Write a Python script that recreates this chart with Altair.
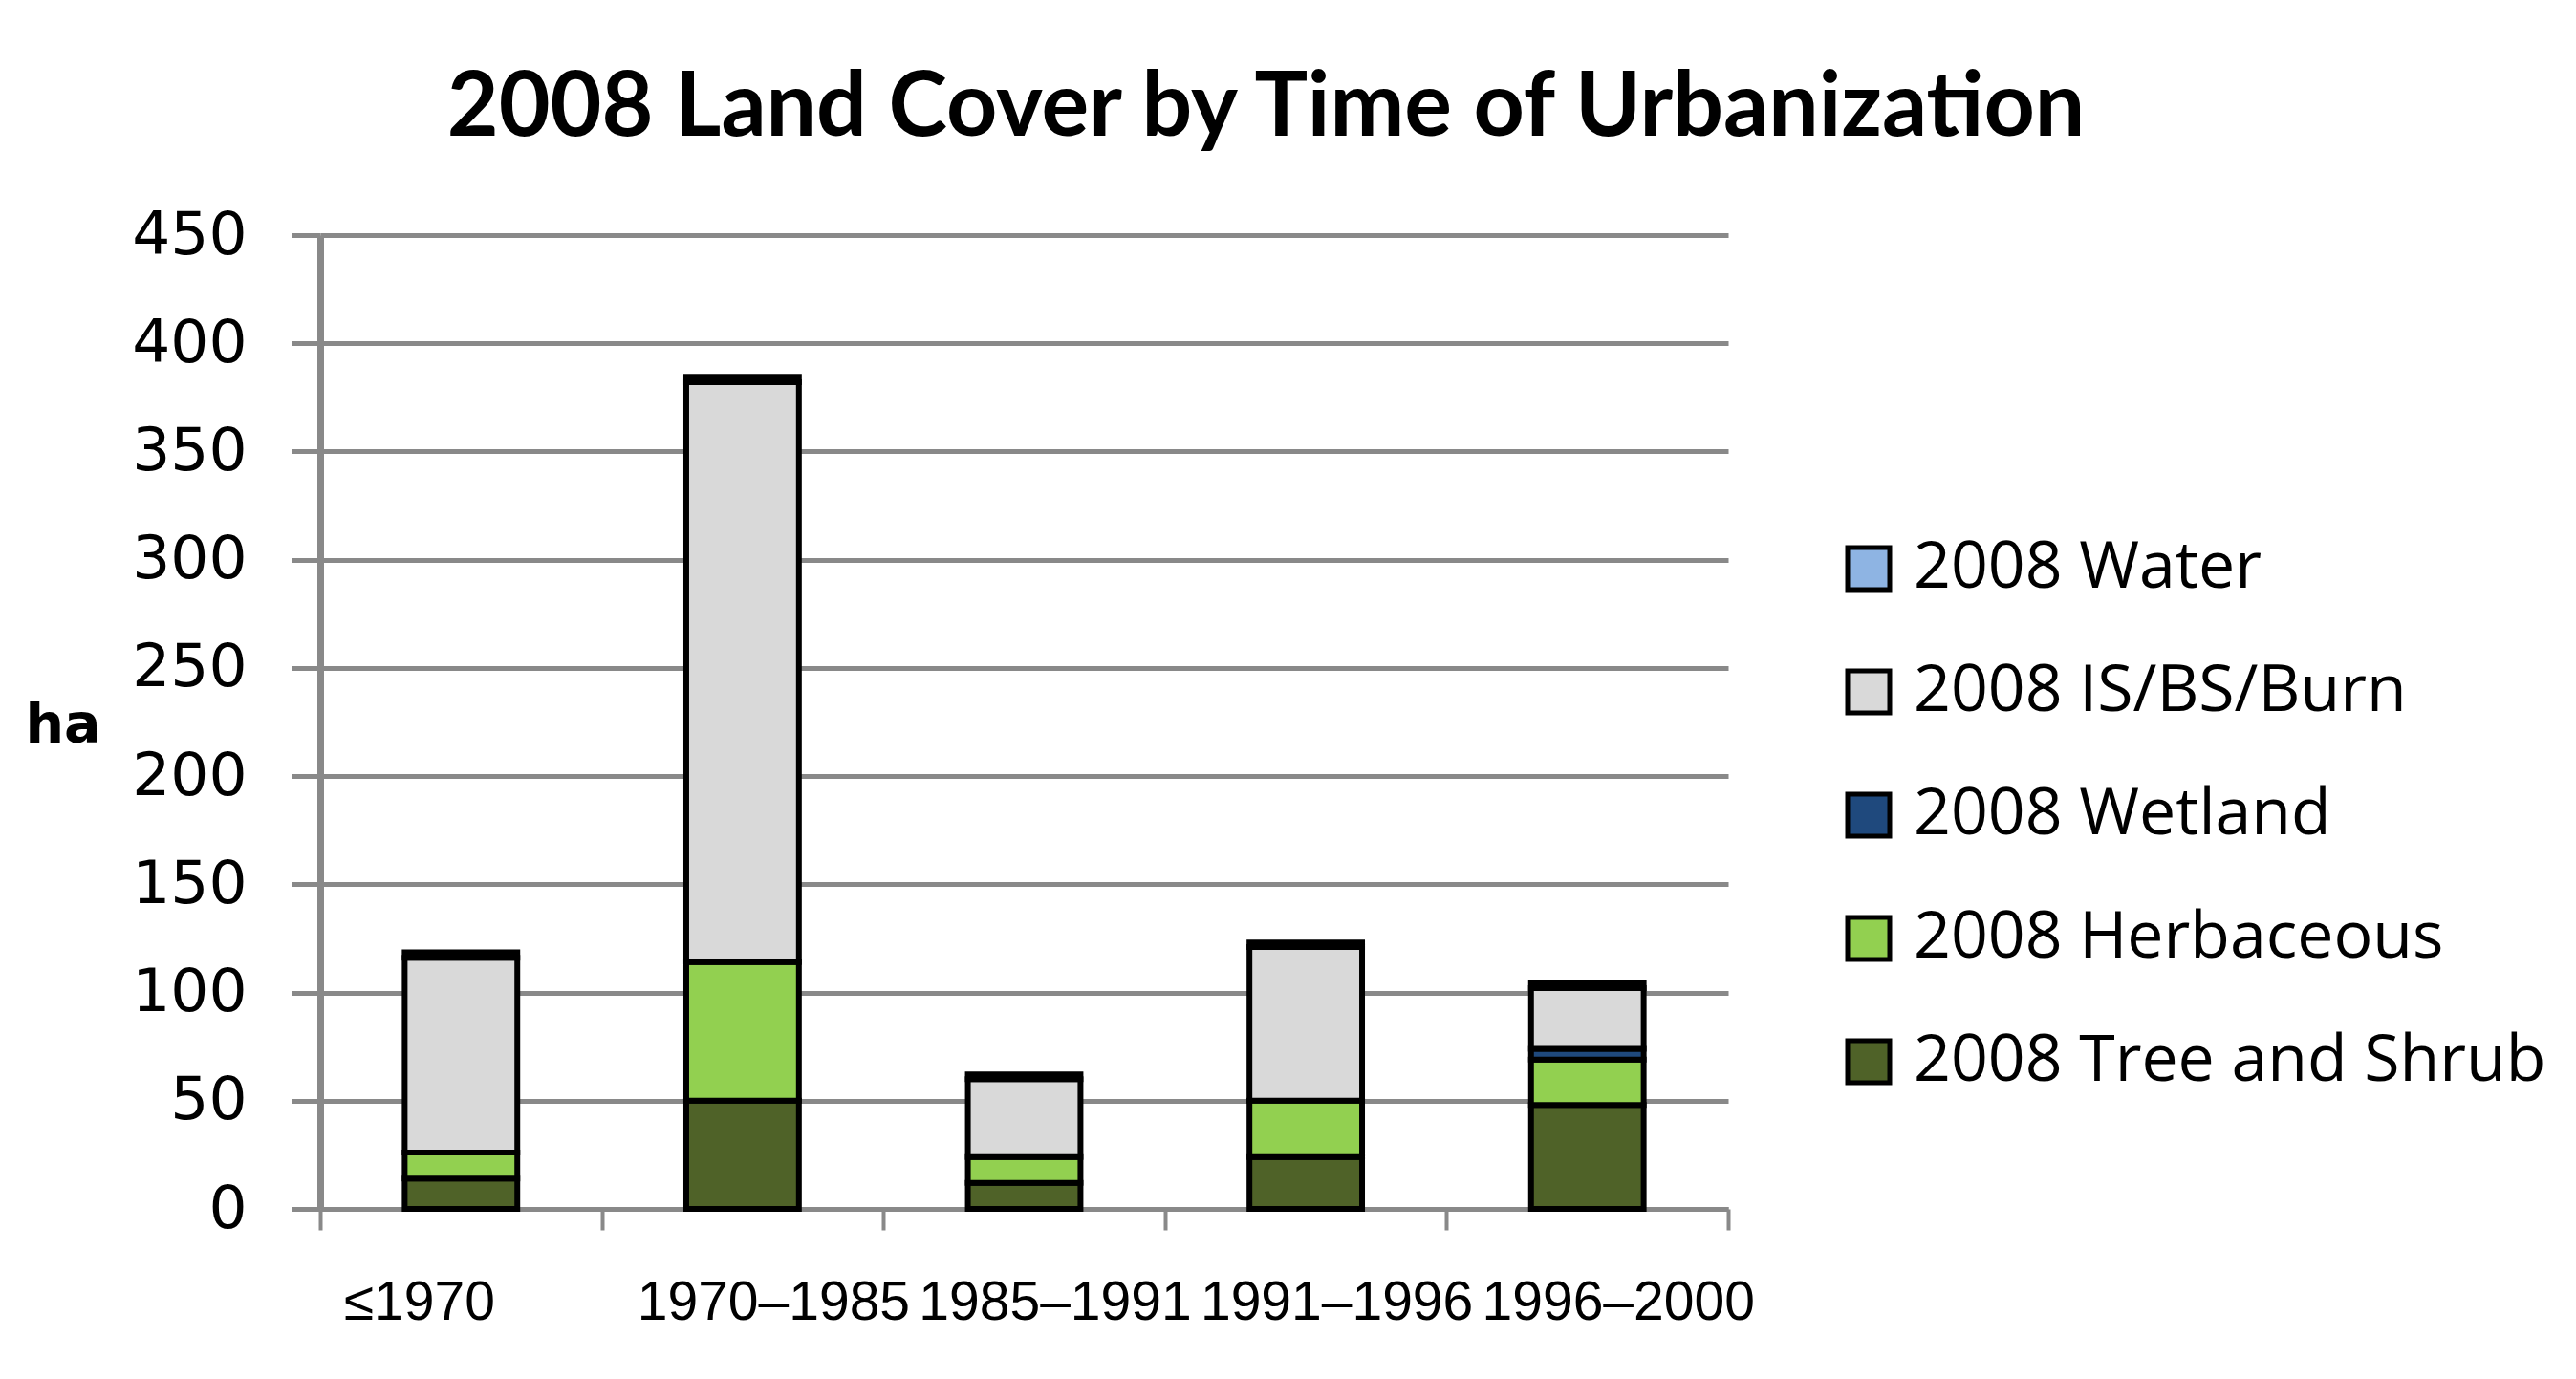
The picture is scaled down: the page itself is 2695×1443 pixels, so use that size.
import altair as alt
import pandas as pd

categories = ["≤1970", "1970–1985", "1985–1991", "1991–1996", "1996–2000"]
series = ["2008 Tree and Shrub", "2008 Herbaceous", "2008 Wetland", "2008 IS/BS/Burn", "2008 Water"]
tree = [14, 50, 12, 24, 48]
herb = [12, 64, 12, 26, 21]
wetland = [0, 0, 0, 0, 5]
isbs = [90, 268, 36, 71, 28]
water = [2.6, 2.5, 2.2, 2.1, 2.5]
colors = ["#4F6228", "#92D050", "#1F497D", "#D9D9D9", "#8EB4E3"]
y_ticks = [0, 50, 100, 150, 200, 250, 300, 350, 400, 450]

rows = []
for s_i, (name, vals) in enumerate(zip(series, [tree, herb, wetland, isbs, water])):
    for c, v in zip(categories, vals):
        if v > 0:
            rows.append({"period": c, "cover": name, "ha": v, "rank": s_i})
df = pd.DataFrame(rows)

legend_order = series[::-1]
legend_colors = colors[::-1]

chart = alt.Chart(df).mark_bar(stroke="black", strokeWidth=6,
                               width=alt.RelativeBandSize(0.4)).encode(
    x=alt.X("period:N", sort=categories,
            scale=alt.Scale(paddingInner=0, paddingOuter=0),
            axis=alt.Axis(title=None, labelAngle=0, labelFont="Liberation Sans",
                          labelFontSize=57, labelColor="black", labelPadding=48,
                          labelLimit=1000,
                          labelOffset={"condition": {"test": "datum.value === '≤1970'", "value": -44},
                                       "value": 32},
                          tickBand="extent", tickSize=22, tickWidth=4, tickColor="#898989",
                          domainColor="#898989", domainWidth=5, grid=False)),
    y=alt.Y("ha:Q", stack="zero",
            scale=alt.Scale(domain=[0, 450], nice=False),
            axis=alt.Axis(values=y_ticks, title="ha", titleAngle=0, titleFont="DejaVu Sans",
                          titleFontWeight="bold", titleFontSize=57, titleColor="black",
                          titleX=-309, titleY=513, titleAlign="left", titleBaseline="middle",
                          labelFont="DejaVu Sans", labelFontSize=63, labelColor="black",
                          labelPadding=47, tickSize=30, tickWidth=5, tickColor="#898989",
                          domainColor="#898989", domainWidth=7,
                          grid=True, gridColor="#898989", gridWidth=5)),
    color=alt.Color("cover:N", scale=alt.Scale(domain=legend_order, range=legend_colors),
                    legend=alt.Legend(title=None, orient="none", legendX=1586, legendY=315,
                                      symbolType="square", symbolSize=1936,
                                      symbolStrokeColor="black", symbolStrokeWidth=5,
                                      symbolOpacity=1,
                                      labelFont="Open Sans", labelFontSize=68, labelColor="black",
                                      labelOffset=13, rowPadding=61, labelLimit=1000)),
    order=alt.Order("rank:Q", sort="ascending"),
).properties(
    width=1473, height=1019,
    title=alt.TitleParams("2008 Land Cover by Time of Urbanization", font="Lato",
                          fontWeight="bold", fontSize=93, color="black",
                          anchor="middle", frame="group", dx=253, offset=53),
    autosize=alt.AutoSizeParams(type="none"),
    padding={"left": 327, "top": 238, "right": 860, "bottom": 150},
).configure_view(stroke=None)

chart.save("out.html", embed_options={"renderer": "svg", "actions": False})
